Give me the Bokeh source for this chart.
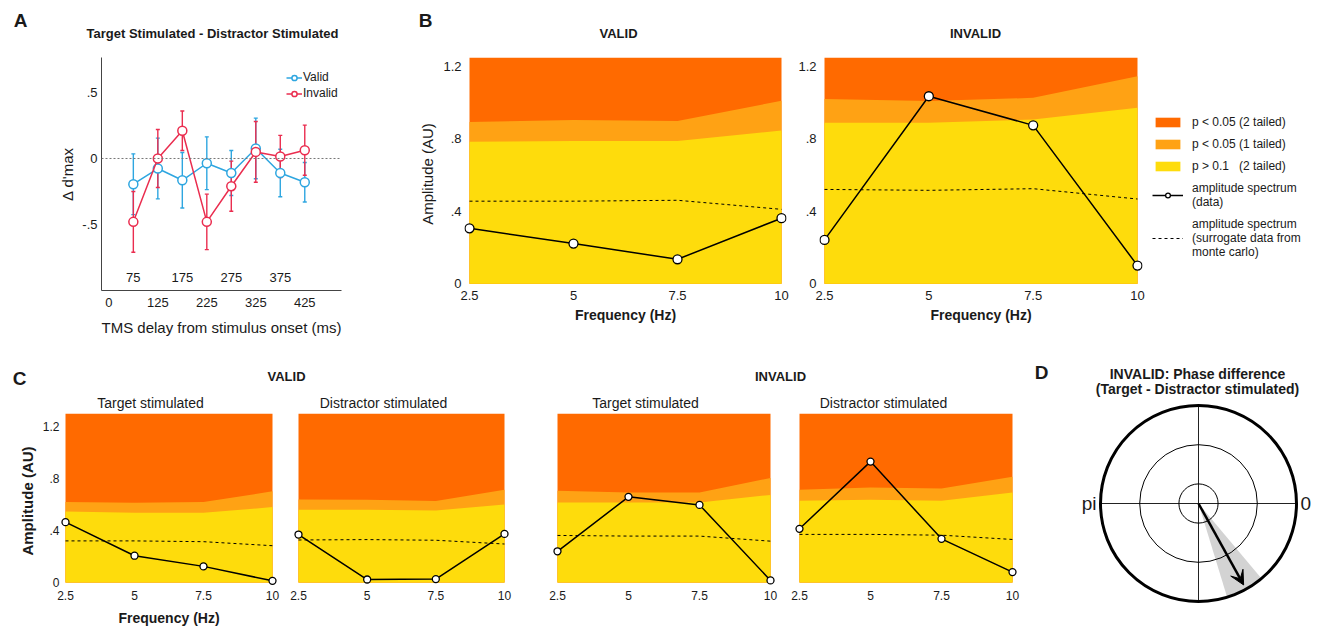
import math
from bokeh.plotting import figure
from bokeh.layouts import row, column
from bokeh.models import (ColumnDataSource, Whisker, TeeHead, Span, Label, Legend, LegendItem,
                          FixedTicker, Range1d, Arrow, VeeHead)
from bokeh.core.properties import value
from bokeh.embed import file_html
from bokeh.resources import INLINE

FONT = "Liberation Sans"
INK = "#1a1a1a"
DARK, MID, YEL = "#ff6a00", "#ffa214", "#fedc0c"
BLUE, RED = "#2ea6e0", "#ea2d4f"

# ---------------- Panel A data ----------------
delays = [75, 125, 175, 225, 275, 325, 375, 425]
valid_mean = [-0.195, -0.076, -0.165, -0.036, -0.11, 0.076, -0.11, -0.18]
valid_err = [0.23, 0.23, 0.21, 0.20, 0.17, 0.23, 0.18, 0.15]
invalid_mean = [-0.48, 0.0, 0.21, -0.48, -0.21, 0.05, 0.015, 0.063]
invalid_err = [0.23, 0.22, 0.15, 0.21, 0.19, 0.23, 0.16, 0.19]
a_xticks = [25, 125, 225, 325, 425]
a_xtick_labels = ["0", "125", "225", "325", "425"]
a_inner_ticks = [75, 175, 275, 375]
a_yticks = [-0.5, 0, 0.5]
a_ytick_labels = ["-.5", "0", ".5"]

# ---------------- Spectra (B, C) ----------------
freqs = [2.5, 5, 7.5, 10]
freq_labels = ["2.5", "5", "7.5", "10"]
amp_ticks = [0, 0.4, 0.8, 1.2]
amp_tick_labels = ["0", ".4", ".8", "1.2"]

# B VALID
bv_data = [0.306, 0.222, 0.135, 0.362]
bv_surr = [0.456, 0.456, 0.461, 0.411]
bv_p10 = [0.784, 0.789, 0.789, 0.847]
bv_p05_1t = [0.894, 0.905, 0.899, 1.011]
# B INVALID
bi_data = [0.242, 1.036, 0.875, 0.100]
bi_surr = [0.521, 0.516, 0.525, 0.468]
bi_p10 = [0.889, 0.889, 0.907, 0.973]
bi_p05_1t = [1.021, 1.009, 1.027, 1.147]
b_ymax = 1.25

# C VALID target / distractor, INVALID target / distractor
c1_data = [0.464, 0.206, 0.124, 0.013]
c1_surr = [0.320, 0.320, 0.314, 0.283]
c1_p10 = [0.546, 0.536, 0.536, 0.580]
c1_p05_1t = [0.619, 0.613, 0.619, 0.701]
c2_data = [0.369, 0.023, 0.026, 0.374]
c2_surr = [0.327, 0.330, 0.325, 0.296]
c2_p10 = [0.559, 0.559, 0.554, 0.600]
c2_p05_1t = [0.639, 0.637, 0.626, 0.714]
c3_data = [0.240, 0.659, 0.597, 0.016]
c3_surr = [0.362, 0.357, 0.357, 0.318]
c3_p10 = [0.615, 0.615, 0.615, 0.674]
c3_p05_1t = [0.705, 0.692, 0.692, 0.804]
c4_data = [0.413, 0.930, 0.336, 0.080]
c4_surr = [0.370, 0.370, 0.364, 0.331]
c4_p10 = [0.628, 0.636, 0.628, 0.692]
c4_p05_1t = [0.713, 0.731, 0.724, 0.814]
c_ymax = 1.3

# ---------------- Panel D data ----------------
ring_radii = [0.2, 0.6, 1.0]
ring_widths = [1, 1, 3]
phase_mean_deg = -61
phase_ci_deg = [-73, -50]
vector_length = 0.95


def bare(p):
    p.outline_line_color = None
    p.xgrid.visible = False
    p.ygrid.visible = False
    return p


def frame_fig(canvas, frame, x_range, y_range, xaxis=True, yaxis=True):
    cx0, cx1, cy0, cy1 = canvas
    fx0, fx1, fy0, fy1 = frame
    p = figure(width=cx1 - cx0, height=cy1 - cy0, x_range=x_range, y_range=y_range,
               min_border_left=fx0 - cx0, min_border_right=cx1 - fx1,
               min_border_top=fy0 - cy0, min_border_bottom=cy1 - fy1,
               x_axis_location="below" if xaxis else None,
               y_axis_location="left" if yaxis else None,
               output_backend="svg", toolbar_location=None)
    return bare(p)


def text_fig(canvas):
    cx0, cx1, cy0, cy1 = canvas
    p = figure(width=cx1 - cx0, height=cy1 - cy0, x_range=Range1d(0, 1), y_range=Range1d(0, 1),
               min_border=0, x_axis_location=None, y_axis_location=None,
               output_backend="svg", toolbar_location=None)
    return bare(p)


def style_axis(axes, ticks, labels, size, standoff, line=False, label=None, label_size=14,
               label_bold=False, label_standoff=5):
    for ax in axes:
        ax.ticker = FixedTicker(ticks=ticks)
        ax.major_label_overrides = {t: l for t, l in zip(ticks, labels)}
        ax.major_label_text_font = FONT
        ax.major_label_text_font_size = f"{size}px"
        ax.major_label_text_color = INK
        ax.major_label_standoff = standoff
        ax.major_tick_line_color = None
        ax.minor_tick_line_color = None
        ax.major_tick_out = 0
        ax.major_tick_in = 0
        ax.minor_tick_out = 0
        ax.minor_tick_in = 0
        if line:
            ax.axis_line_color = "#444444"
            ax.axis_line_width = 1
        else:
            ax.axis_line_color = None
        if label is not None:
            ax.axis_label = label
            ax.axis_label_text_font = FONT
            ax.axis_label_text_font_size = f"{label_size}px"
            ax.axis_label_text_font_style = "bold" if label_bold else "normal"
            ax.axis_label_text_color = INK
            ax.axis_label_standoff = label_standoff


def lab(p, canvas, X, Y, text, size=13, bold=False, align="center", angle=0.0):
    # text placed inside a frame-only figure, given in page pixel positions
    p.add_layout(Label(x=X - canvas[0], y=canvas[3] - Y, x_units="screen", y_units="screen",
                       text=text, text_font=FONT, text_font_size=f"{size}px",
                       text_font_style="bold" if bold else "normal",
                       text_align=align, text_baseline="middle", angle=angle,
                       text_color=INK))


def spec_panel(canvas, visible, ymax, p10, p05, surr, data, msize, tick_size, xstand, ystand,
               yaxis=True, xlabel=None, ylabel=None, label_bold=False, label_size=14,
               xl_stand=5, yl_stand=5, pad_x=5, pad_b=6):
    vx0, vx1, vy0, vy1 = visible
    frame = (vx0 - pad_x, vx1 + pad_x, vy0, vy1 + pad_b)
    ux = (freqs[-1] - freqs[0]) / (vx1 - vx0)
    uy = ymax / (vy1 - vy0)
    p = frame_fig(canvas, frame, Range1d(freqs[0] - pad_x * ux, freqs[-1] + pad_x * ux),
                  Range1d(-pad_b * uy, ymax), xaxis=True, yaxis=yaxis)
    zero = [0] * len(freqs)
    top = [ymax] * len(freqs)
    p.varea(x=freqs, y1=zero, y2=top, fill_color=DARK)
    p.varea(x=freqs, y1=zero, y2=p05, fill_color=MID)
    p.varea(x=freqs, y1=zero, y2=p10, fill_color=YEL)
    p.line(freqs, surr, line_color="black", line_dash="3 3", line_width=1)
    p.line(freqs, data, line_color="black", line_width=1.5)
    p.scatter(freqs, data, size=msize, fill_color="white", line_color="black", line_width=1.3)
    style_axis(p.xaxis, freqs, freq_labels, tick_size, xstand, label=xlabel, label_size=label_size,
               label_bold=True, label_standoff=xl_stand)
    if yaxis:
        style_axis(p.yaxis, amp_ticks, amp_tick_labels, tick_size, ystand, label=ylabel,
                   label_size=15, label_bold=label_bold, label_standoff=yl_stand)
    return p


# ================= top strip (panel letters and titles) =================
top_canvas = (0, 1316, 0, 45)
top_strip = text_fig(top_canvas)
lab(top_strip, top_canvas, 20, 20, "A", size=19, bold=True)
lab(top_strip, top_canvas, 212, 33, "Target Stimulated - Distractor Stimulated", size=13, bold=True)
lab(top_strip, top_canvas, 425, 20, "B", size=19, bold=True)
lab(top_strip, top_canvas, 618, 33, "VALID", size=13, bold=True)
lab(top_strip, top_canvas, 975, 33, "INVALID", size=13, bold=True)

# ================= Panel A =================
pA = frame_fig((0, 392, 45, 340), (101, 341, 57, 290), Range1d(10, 500), Range1d(-1.0, 0.765))
style_axis(pA.xaxis, a_xticks, a_xtick_labels, 13, 7, line=True,
           label="TMS delay from stimulus onset (ms)", label_size=15, label_standoff=9)
style_axis(pA.yaxis, a_yticks, a_ytick_labels, 13, 4, line=True,
           label="\u0394 d'max", label_size=15, label_standoff=3)
pA.add_layout(Span(location=0, dimension="width", line_color="#777777", line_dash="2 2", line_width=1))

srcV = ColumnDataSource(dict(x=delays, y=valid_mean,
                             lo=[m - e for m, e in zip(valid_mean, valid_err)],
                             hi=[m + e for m, e in zip(valid_mean, valid_err)]))
srcI = ColumnDataSource(dict(x=delays, y=invalid_mean,
                             lo=[m - e for m, e in zip(invalid_mean, invalid_err)],
                             hi=[m + e for m, e in zip(invalid_mean, invalid_err)]))
items = []
for src, col, name in [(srcV, BLUE, "Valid"), (srcI, RED, "Invalid")]:
    pA.add_layout(Whisker(source=src, base="x", upper="hi", lower="lo", dimension="height",
                          line_color=col, line_width=1.4,
                          upper_head=TeeHead(size=4, line_color=col, line_width=1.4),
                          lower_head=TeeHead(size=4, line_color=col, line_width=1.4)))
    rl = pA.line("x", "y", source=src, line_color=col, line_width=1.5)
    rs = pA.scatter("x", "y", source=src, size=9, fill_color="white", line_color=col, line_width=1.5)
    items.append(LegendItem(label=name, renderers=[rl, rs]))
pA.text(x=a_inner_ticks, y=[-0.9] * len(a_inner_ticks), text=[str(v) for v in a_inner_ticks],
        text_font=value(FONT), text_font_size="13px", text_align="center",
        text_baseline="middle", text_color=INK)
legA = Legend(items=items, location=(185, 190), glyph_width=16, glyph_height=13, label_height=13,
              spacing=2, padding=2, margin=0, label_standoff=1, border_line_color=None,
              background_fill_alpha=0, label_text_font=FONT, label_text_font_size="12px",
              label_text_color=INK)
pA.add_layout(legA)

# ================= Panel B =================
pBv = spec_panel((392, 795, 45, 340), (469, 781, 57, 290), b_ymax, bv_p10, bv_p05_1t,
                 bv_surr, bv_data, 9, 13, 0, 3, xlabel="Frequency (Hz)", ylabel="Amplitude (AU)",
                 xl_stand=4, yl_stand=4, pad_b=7)
pBi = spec_panel((795, 1146, 45, 340), (824, 1137, 57, 290), b_ymax, bi_p10, bi_p05_1t,
                 bi_surr, bi_data, 9, 13, 0, 3, xlabel="Frequency (Hz)", xl_stand=4, pad_b=7)

# legend figure: the renderers only provide legend glyphs (a single NaN point draws nothing)
leg_canvas = (1146, 1316, 45, 340)
pL = text_fig(leg_canvas)
nan = [float("nan")]
g_d = pL.varea(x=nan, y1=nan, y2=nan, fill_color=DARK)
g_m = pL.varea(x=nan, y1=nan, y2=nan, fill_color=MID)
g_y = pL.varea(x=nan, y1=nan, y2=nan, fill_color=YEL)
g_l = pL.line(x=nan, y=nan, line_color="black", line_width=1.5)
g_c = pL.scatter(x=nan, y=nan, size=9, fill_color="white", line_color="black", line_width=1.3)
g_s = pL.line(x=nan, y=nan, line_color="black", line_dash="3 3", line_width=1)
legB = Legend(items=[
    LegendItem(label="p < 0.05 (2 tailed)", renderers=[g_d]),
    LegendItem(label="p < 0.05 (1 tailed)", renderers=[g_m]),
    LegendItem(label="p > 0.1\u00a0\u00a0\u00a0(2 tailed)", renderers=[g_y]),
    LegendItem(label="amplitude spectrum\n(data)", renderers=[g_l, g_c]),
    LegendItem(label="amplitude spectrum\n(surrogate data from\nmonte carlo)", renderers=[g_s]),
], location=(6, 31), glyph_width=31, glyph_height=12, label_height=12, spacing=8, padding=0,
    margin=0, label_standoff=9, border_line_color=None, background_fill_alpha=0,
    label_text_font=FONT, label_text_font_size="12px", label_text_color=INK,
    label_text_line_height=1.15)
pL.add_layout(legB)

# ================= Panel C =================
c_strip_canvas = (0, 1030, 340, 412)
c_strip = text_fig(c_strip_canvas)
lab(c_strip, c_strip_canvas, 19, 378, "C", size=19, bold=True)
lab(c_strip, c_strip_canvas, 286, 376, "VALID", size=13, bold=True)
lab(c_strip, c_strip_canvas, 780, 376, "INVALID", size=13, bold=True)
lab(c_strip, c_strip_canvas, 150, 402, "Target stimulated", size=14)
lab(c_strip, c_strip_canvas, 383, 402, "Distractor stimulated", size=14)
lab(c_strip, c_strip_canvas, 645, 402, "Target stimulated", size=14)
lab(c_strip, c_strip_canvas, 883, 402, "Distractor stimulated", size=14)

pC1 = spec_panel((0, 285, 412, 628), (65, 272, 413, 582), c_ymax, c1_p10, c1_p05_1t,
                 c1_surr, c1_data, 7, 12, 2, 1, xlabel="Frequency (Hz)", ylabel="Amplitude (AU)",
                 label_bold=True, xl_stand=7, yl_stand=4)
pC2 = spec_panel((285, 530, 412, 628), (298, 504, 413, 582), c_ymax, c2_p10, c2_p05_1t,
                 c2_surr, c2_data, 7, 12, 2, 1, yaxis=False)
pC3 = spec_panel((530, 785, 412, 628), (557, 770, 413, 582), c_ymax, c3_p10, c3_p05_1t,
                 c3_surr, c3_data, 7, 12, 2, 1, yaxis=False)
pC4 = spec_panel((785, 1030, 412, 628), (799, 1012, 413, 582), c_ymax, c4_p10, c4_p05_1t,
                 c4_surr, c4_data, 7, 12, 2, 1, yaxis=False)

# ================= Panel D =================
R_px = 98.0
cxD, cyD = 1198, 503
D_canvas = (1030, 1316, 340, 628)
pD = figure(width=D_canvas[1] - D_canvas[0], height=D_canvas[3] - D_canvas[2],
            x_range=Range1d((D_canvas[0] - cxD) / R_px, (D_canvas[1] - cxD) / R_px),
            y_range=Range1d(-(D_canvas[3] - cyD) / R_px, (cyD - D_canvas[2]) / R_px),
            min_border=0, x_axis_location=None, y_axis_location=None,
            output_backend="svg", toolbar_location=None)
bare(pD)
rmax = ring_radii[-1]
pD.wedge(x=0, y=0, radius=rmax, start_angle=phase_ci_deg[0], end_angle=phase_ci_deg[1],
         start_angle_units="deg", end_angle_units="deg", fill_color="#d3d3d3", line_color=None)
pD.segment(x0=[-rmax, 0], y0=[0, -rmax], x1=[rmax, 0], y1=[0, rmax], line_color="#222222", line_width=1)
pD.circle(x=[0] * len(ring_radii), y=[0] * len(ring_radii), radius=ring_radii, fill_color=None,
          line_color="black", line_width=ring_widths)
th = math.radians(phase_mean_deg)
pD.add_layout(Arrow(end=VeeHead(size=14, fill_color="black", line_color="black"),
                    x_start=0, y_start=0, x_end=vector_length * math.cos(th),
                    y_end=vector_length * math.sin(th), line_width=2.5, line_color="black"))
pD.add_layout(Label(x=-rmax * 1.04, y=0, text="pi", text_font=FONT, text_font_size="19px",
                    text_align="right", text_baseline="middle", text_color=INK))
pD.add_layout(Label(x=rmax * 1.04, y=0, text="0", text_font=FONT, text_font_size="19px",
                    text_align="left", text_baseline="middle", text_color=INK))
lab(pD, D_canvas, 1041, 372, "D", size=19, bold=True)
lab(pD, D_canvas, 1197, 373, "INVALID: Phase difference", size=14, bold=True)
lab(pD, D_canvas, 1197, 388, "(Target - Distractor stimulated)", size=14, bold=True)

layout = column(top_strip,
                row(pA, pBv, pBi, pL),
                row(column(c_strip, row(pC1, pC2, pC3, pC4)), pD))

open("out.html", "w").write(file_html(layout, INLINE))
